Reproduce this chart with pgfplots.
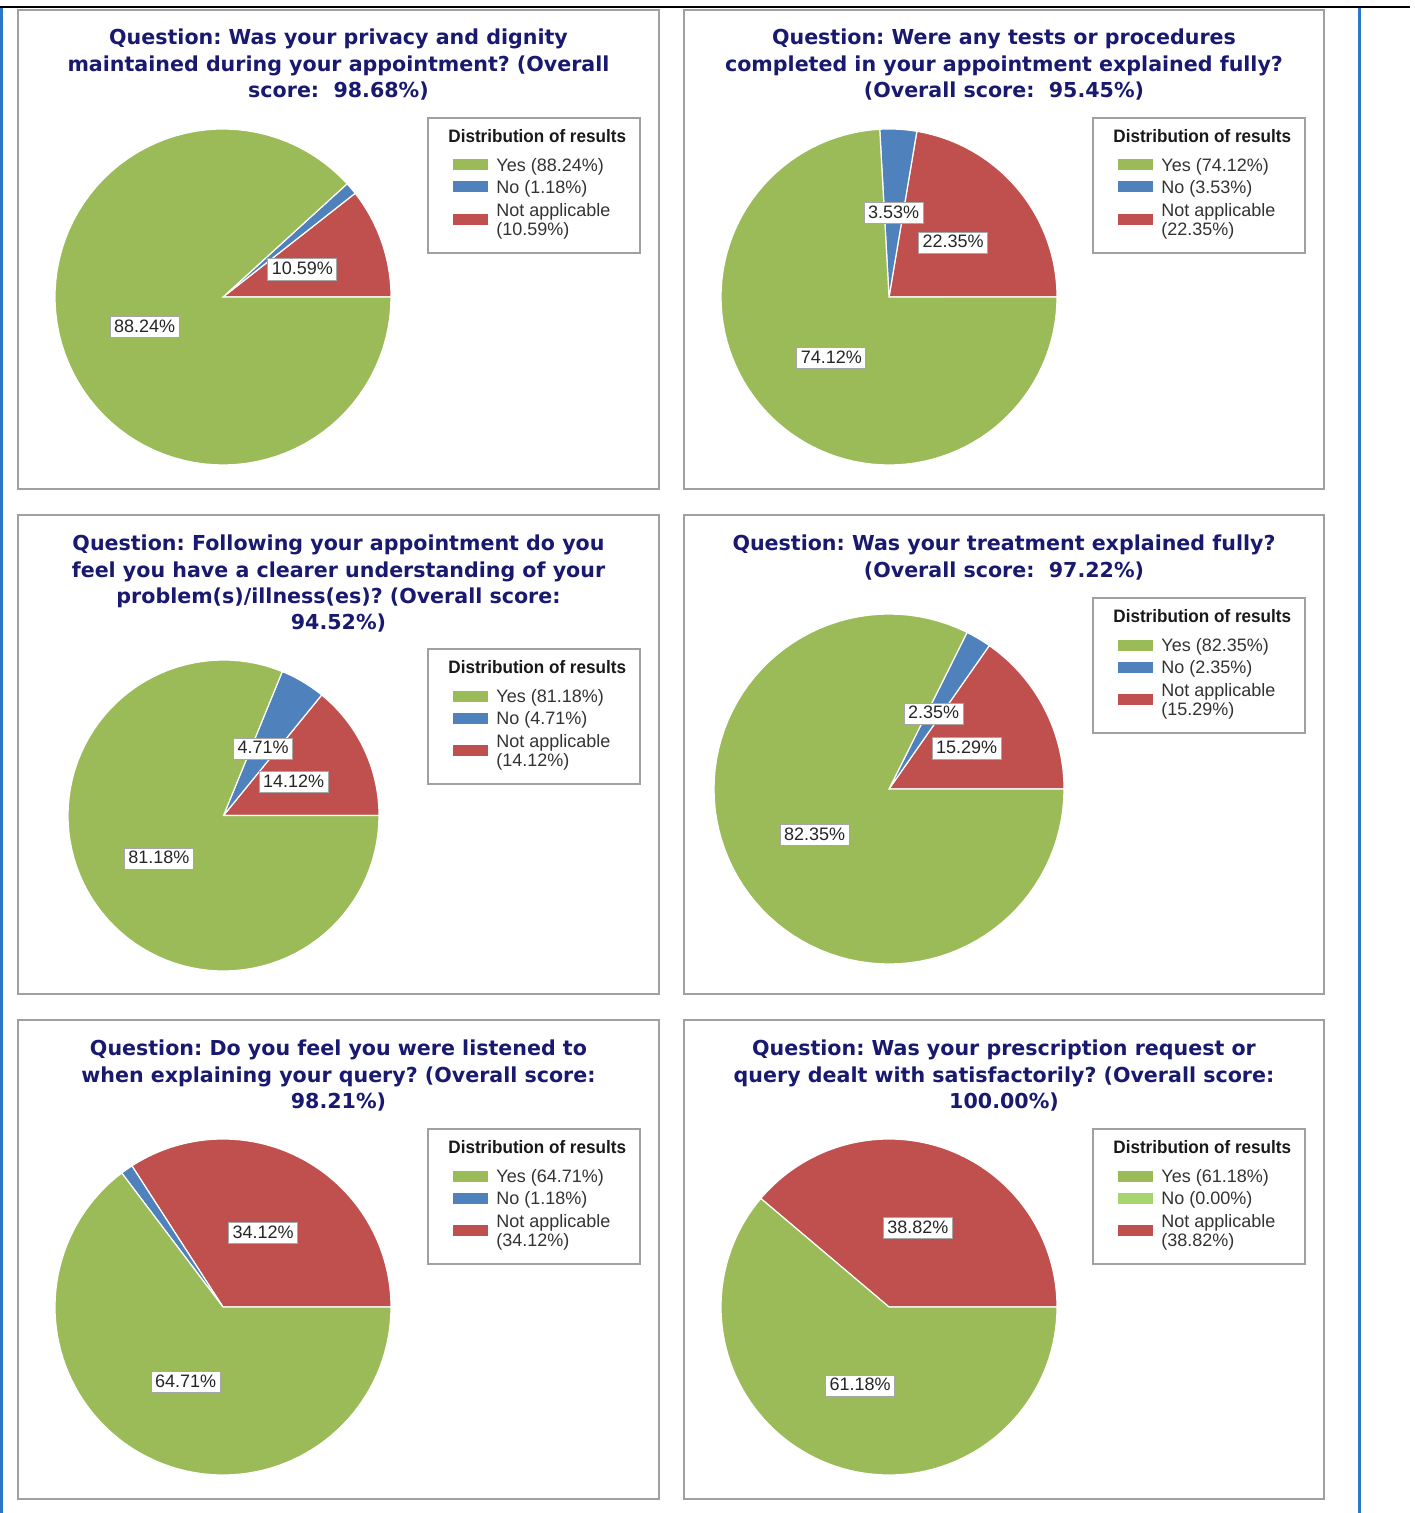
\documentclass[border=0pt]{standalone}
\usepackage{fontspec}
\setmainfont{Liberation Sans}
\newfontfamily\titlefont{DejaVu Sans}
\newfontfamily\legtitlefont{Liberation Sans}[FakeStretch=0.95]
\usepackage{pgfplots}
\pgfplotsset{compat=1.18}

\definecolor{yesgreen}{HTML}{9BBB59}
\definecolor{noblue}{HTML}{4F81BD}
\definecolor{nared}{HTML}{C0504D}
\definecolor{nolight}{HTML}{A8D46E}
\definecolor{titleblue}{HTML}{191970}
\definecolor{framegray}{HTML}{A0A0A0}
\definecolor{bluebar}{HTML}{2B78C8}

\pgfplotsset{pie/.style={hide axis, scale only axis, xmin=-1, xmax=1, ymin=-1, ymax=1, anchor=origin, clip=false}}
\tikzset{plbl/.style={fill=white, draw=gray!70, line width=0.5pt, inner xsep=2pt, inner ysep=1.2pt, text height=6.6pt, text depth=1.6pt, font=\fontsize{9}{10}\selectfont, text=black!85},
legtext/.style={anchor=west, inner sep=0pt, font=\fontsize{9}{9.5}\selectfont, text=black!80, align=left}}

% slice: colour, start (%), end (%)
\newcommand{\slice}[3]{\addplot[fill=#1, draw=white, line width=0.6pt, domain=#2:#3, samples=90, variable=\t] ({cos(3.6*\t)},{sin(3.6*\t)}) -- (axis cs:0,0) -- cycle;}
% label at mid position (%)
\newcommand{\plabel}[2]{\node[plbl] at (axis cs:{0.5*cos(3.6*#1)},{0.5*sin(3.6*#1)}) {#2};}
% title line
\newcommand{\tline}[3]{\node[anchor=base, inner sep=0pt, font=\titlefont\bfseries\fontsize{10.3}{12}\selectfont, text=titleblue] at (#1,#2) {#3};}
% legend box: x y yes no na nocolour
\newcommand{\legendbox}[6]{%
 \draw[framegray, line width=0.75pt] (#1,#2) rectangle ++(212,135);
 \node[anchor=west, inner sep=0pt, font=\legtitlefont\bfseries\fontsize{9}{10}\selectfont, text=black!90] at ({#1+20},{#2+18}) {Distribution of results};
 \fill[yesgreen] ({#1+25},{#2+41.5}) rectangle ++(35,11);
 \fill[#6] ({#1+25},{#2+63.5}) rectangle ++(35,11);
 \fill[nared] ({#1+25},{#2+96}) rectangle ++(35,11);
 \node[legtext] at ({#1+68},{#2+49}) {Yes (#3)};
 \node[legtext] at ({#1+68},{#2+71}) {No (#4)};
 \node[legtext] at ({#1+68},{#2+103.5}) {Not applicable\\(#5)};
}

\begin{document}
\frenchspacing
\begin{tikzpicture}
\begin{scope}[x=0.5pt, y=-0.5pt]
\useasboundingbox (0,0) rectangle (1414,1513);
\fill[white] (0,0) rectangle (1414,1513);
\fill[black] (0,6) rectangle (1410,8.5);
\fill[bluebar] (0,8) rectangle (3,1513);
\fill[bluebar] (1358,8) rectangle (1361,1513);
% frames
\draw[framegray, line width=1pt] (18,10) rectangle (659,489);
\draw[framegray, line width=1pt] (684,10) rectangle (1324,489);
\draw[framegray, line width=1pt] (18,515) rectangle (659,994);
\draw[framegray, line width=1pt] (684,515) rectangle (1324,994);
\draw[framegray, line width=1pt] (18,1020) rectangle (659,1499);
\draw[framegray, line width=1pt] (684,1020) rectangle (1324,1499);
% titles
\tline{338.5}{45}{Question: Was your privacy and dignity}
\tline{338.5}{71.5}{maintained during your appointment? (Overall}
\tline{338.5}{98}{score:\ \ 98.68\%)}
\tline{1004}{45}{Question: Were any tests or procedures}
\tline{1004}{71.5}{completed in your appointment explained fully?}
\tline{1004}{98}{(Overall score:\ \ 95.45\%)}
\tline{338.5}{550}{Question: Following your appointment do you}
\tline{338.5}{577}{feel you have a clearer understanding of your}
\tline{338.5}{603}{problem(s)/illness(es)? (Overall score:}
\tline{338.5}{629}{94.52\%)}
\tline{1004}{550}{Question: Was your treatment explained fully?}
\tline{1004}{577}{(Overall score:\ \ 97.22\%)}
\tline{338.5}{1055}{Question: Do you feel you were listened to}
\tline{338.5}{1082}{when explaining your query? (Overall score:}
\tline{338.5}{1108}{98.21\%)}
\tline{1004}{1055}{Question: Was your prescription request or}
\tline{1004}{1082}{query dealt with satisfactorily? (Overall score:}
\tline{1004}{1108}{100.00\%)}
% legends
\legendbox{428}{118}{88.24\%}{1.18\%}{10.59\%}{noblue}
\legendbox{1093}{118}{74.12\%}{3.53\%}{22.35\%}{noblue}
\legendbox{428}{649}{81.18\%}{4.71\%}{14.12\%}{noblue}
\legendbox{1093}{598}{82.35\%}{2.35\%}{15.29\%}{noblue}
\legendbox{428}{1129}{64.71\%}{1.18\%}{34.12\%}{noblue}
\legendbox{1093}{1129}{61.18\%}{0.00\%}{38.82\%}{nolight}
\end{scope}

% Panel 1
\begin{axis}[pie, width=168pt, height=168pt, at={(111.5pt,-148.5pt)}]
\slice{nared}{0}{10.59}
\slice{noblue}{10.59}{11.77}
\slice{yesgreen}{11.77}{100}
\plabel{5.295}{10.59\%}
\plabel{55.885}{88.24\%}
\end{axis}
% Panel 2
\begin{axis}[pie, width=168pt, height=168pt, at={(444.5pt,-148.5pt)}]
\slice{nared}{0}{22.35}
\slice{noblue}{22.35}{25.88}
\slice{yesgreen}{25.88}{100}
\plabel{11.175}{22.35\%}
\plabel{24.115}{3.53\%}
\plabel{62.94}{74.12\%}
\end{axis}
% Panel 3
\begin{axis}[pie, width=155.5pt, height=155.5pt, at={(111.75pt,-407.75pt)}]
\slice{nared}{0}{14.12}
\slice{noblue}{14.12}{18.83}
\slice{yesgreen}{18.83}{100}
\plabel{7.06}{14.12\%}
\plabel{16.475}{4.71\%}
\plabel{59.415}{81.18\%}
\end{axis}
% Panel 4
\begin{axis}[pie, width=175pt, height=175pt, at={(444.5pt,-394.5pt)}]
\slice{nared}{0}{15.29}
\slice{noblue}{15.29}{17.64}
\slice{yesgreen}{17.64}{100}
\plabel{7.645}{15.29\%}
\plabel{16.465}{2.35\%}
\plabel{58.82}{82.35\%}
\end{axis}
% Panel 5
\begin{axis}[pie, width=168pt, height=168pt, at={(111.5pt,-653.5pt)}]
\slice{nared}{0}{34.12}
\slice{noblue}{34.12}{35.30}
\slice{yesgreen}{35.30}{100}
\plabel{17.06}{34.12\%}
\plabel{67.65}{64.71\%}
\end{axis}
% Panel 6
\begin{axis}[pie, width=168pt, height=168pt, at={(444.5pt,-653.5pt)}]
\slice{nared}{0}{38.82}
\slice{yesgreen}{38.82}{100}
\plabel{19.41}{38.82\%}
\plabel{69.41}{61.18\%}
\end{axis}
\end{tikzpicture}
\end{document}
